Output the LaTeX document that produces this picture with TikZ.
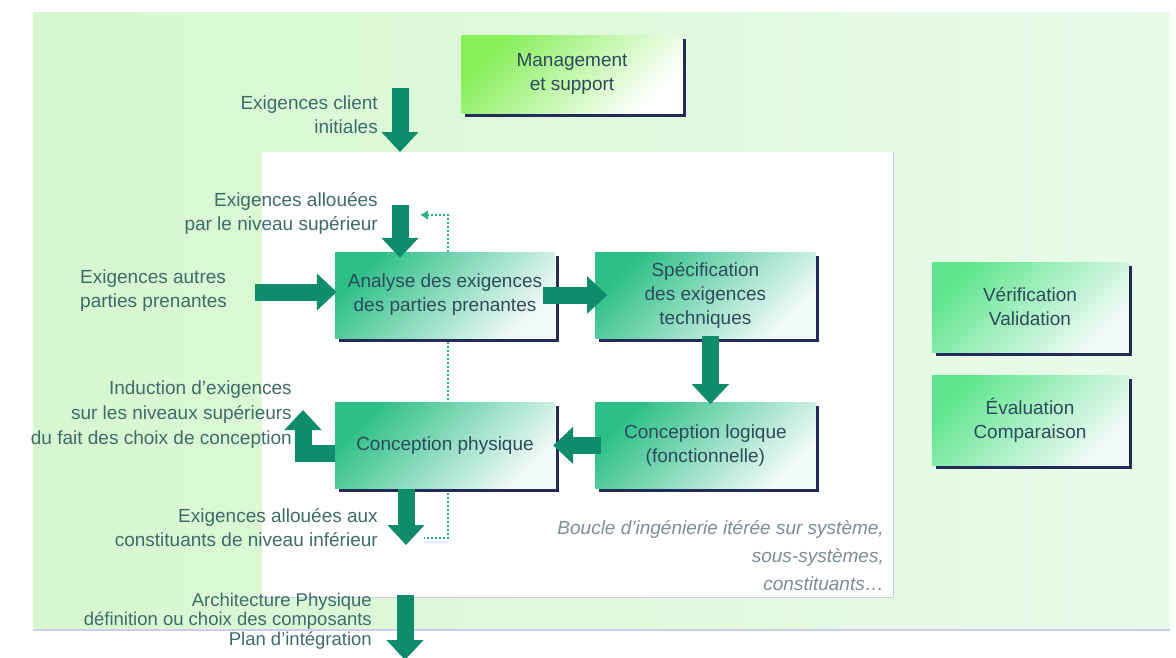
\documentclass[tikz,border=0pt]{standalone}
\usepackage{fontspec}
\setmainfont{Liberation Sans}
\usepackage{tikz}
\usetikzlibrary{positioning, arrows.meta, calc, backgrounds}

\definecolor{bgleft}{HTML}{D6F7CF}
\definecolor{bgright}{HTML}{E9FBEA}
\definecolor{frameline}{HTML}{CCCDEB}
\definecolor{stagegreen}{HTML}{2DBF88}
\definecolor{stagewhite}{HTML}{F2FAF8}
\definecolor{mgmtgreen}{HTML}{86EE58}
\definecolor{sidegreen}{HTML}{5FE58E}
\definecolor{shadownavy}{HTML}{222B5A}
\definecolor{arrowgreen}{HTML}{0F8C6C}
\definecolor{dotgreen}{HTML}{2BB07F}
\definecolor{labeltext}{HTML}{3E6C6A}
\definecolor{boxtext}{HTML}{2D4B5A}
\definecolor{looptext}{HTML}{7B8E98}

\tikzset{
  stagebox/.style={minimum width=220pt, minimum height=86pt, align=center, inner sep=2pt,
    text=boxtext, top color=stagegreen, bottom color=stagewhite, shading angle=45},
  sidebox/.style={stagebox, minimum width=196pt, minimum height=90pt,
    top color=sidegreen, bottom color=stagewhite, shading angle=45},
  shadowline/.style={draw=shadownavy, line width=3pt},
  blockarrow/.style={draw=arrowgreen, line width=17pt, line join=miter,
    -{Triangle[length=20pt,width=36pt]}},
  loopline/.style={draw=dotgreen, line width=2pt, dotted},
  sidelabel/.style={text=labeltext, align=right, inner sep=0pt}
}

\begin{document}
\begin{tikzpicture}[x=1pt, y=-1pt, font=\fontsize{19}{24}\selectfont]
\useasboundingbox (0,0) rectangle (1176,657);

% fonds
\shade[left color=bgleft, right color=bgright] (33,12) rectangle (1170,630);
\draw[frameline, line width=1.5pt] (33,630) -- (1170,630);
\fill[white] (262,152) rectangle (893,597);
\draw[frameline, line width=1pt] (893,152) -- (893,597) -- (262,597);

% blocs
\node[stagebox, minimum width=221pt, minimum height=78pt, top color=mgmtgreen, bottom color=white,
  shading angle=45] (mgmt) at (572,74) {Management\\et support};
\node[stagebox] (analyse) at (445,295) {Analyse des exigences\\des parties prenantes};
\node[stagebox, right=40pt of analyse] (spec) {Spécification\\des exigences\\techniques};
\node[stagebox, below=64pt of spec] (logic) {Conception logique\\(fonctionnelle)};
\node[stagebox, left=40pt of logic] (phys) {Conception physique};
\node[sidebox] (verif) at (1030,307) {Vérification\\Validation};
\node[sidebox, below=23pt of verif] (eval) {Évaluation\\Comparaison};

\foreach \b in {mgmt,analyse,spec,logic,phys,verif,eval}
  \draw[shadowline] ([xshift=2pt,yshift=-4pt]\b.north east) -- ([shift={(2pt,-2pt)}]\b.south east)
    -- ([shift={(4pt,-2pt)}]\b.south west);

% libelles
\node[sidelabel, anchor=east] (clientLbl) at (378,115) {Exigences client\\initiales};
\node[sidelabel, anchor=east] (allocLbl) at (378,213) {Exigences allouées\\par le niveau supérieur};
\node[sidelabel, anchor=west, align=left] (autresLbl) at (80,291) {Exigences autres\\parties prenantes};
\node[sidelabel, anchor=east, font=\fontsize{19}{25}\selectfont] (inducLbl) at (292,415)
  {Induction d'exigences\\sur les niveaux supérieurs\\du fait des choix de conception};
\node[sidelabel, anchor=east] (lowerLbl) at (378,528) {Exigences allouées aux\\constituants de niveau inférieur};
\node[sidelabel, anchor=east, text=looptext, font=\fontsize{19}{28}\selectfont\itshape] (loopLbl) at (884,556)
  {Boucle d'ingénierie itérée sur système,\\sous-systèmes,\\constituants…};
\node[sidelabel, anchor=east, font=\fontsize{18.5}{19.5}\selectfont] (archLbl) at (372,621)
  {Architecture Physique\\définition ou choix des composants\\Plan d'intégration};

% fleches
\coordinate (clientTop) at (400,88);
\coordinate (clientEnd) at (400,152);
\coordinate (allocTop) at (400,205);
\coordinate (autresStart) at (255,292);
\coordinate (induction) at (303,410);
\coordinate (lowerEnd) at (406,545);
\coordinate (archTop) at (405,595);
\coordinate (archEnd) at (405,660);
\coordinate (feedback) at (420,215);
\coordinate (lowerLoop) at (424,538);

\draw[blockarrow] (clientTop) -- (clientEnd);
\draw[blockarrow, shorten >=-6pt] (allocTop) -- (allocTop |- analyse.north);
\draw[blockarrow, shorten >=-2pt] (autresStart) -- (autresStart -| analyse.west);
\draw[blockarrow, shorten <=-12pt, shorten >=-12pt] (analyse.east) -- (spec.west);
\draw[blockarrow, shorten <=-2pt, shorten >=-2pt] ([xshift=5pt]spec.south) -- ([xshift=5pt]logic.north);
\draw[blockarrow, shorten <=-6pt, shorten >=-2pt] (logic.west) -- (phys.east);
\draw[blockarrow] ([yshift=-8pt]phys.west) -| (induction);
\draw[blockarrow] (phys.south -| lowerEnd) -- (lowerEnd);
\draw[blockarrow] (archTop) -- (archEnd);

\draw[loopline, -{Latex[length=8pt,width=10pt]}] ([xshift=3pt]analyse.north) |- (feedback);
\draw[loopline] ([xshift=3pt,yshift=-4pt]analyse.south) -- ([xshift=3pt]phys.north);
\draw[loopline] ([xshift=3pt,yshift=-4pt]phys.south) |- (lowerLoop);
\end{tikzpicture}
\end{document}
